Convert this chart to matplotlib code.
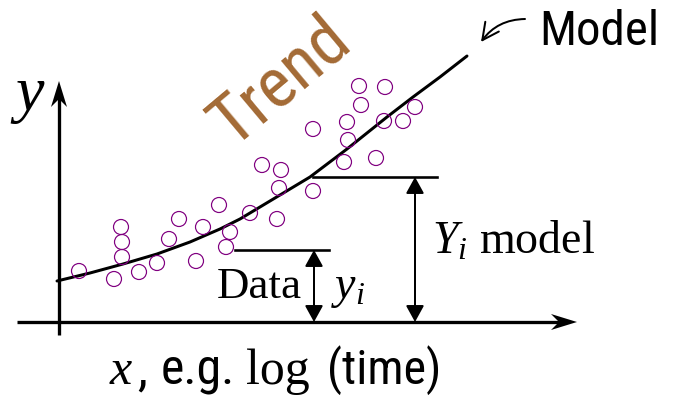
import matplotlib
matplotlib.use("Agg")
import matplotlib.pyplot as plt
from matplotlib.patches import Polygon, FancyArrowPatch
from matplotlib import font_manager

# ---- data (pixel-space coordinates) ----
data_x = [79, 114, 121, 122, 122, 139, 157, 169, 179, 196, 203, 219, 226, 230,
          250, 277, 262, 281, 279, 313, 313, 347, 348, 344, 376, 359, 361, 385,
          384, 403, 415]
data_y = [272, 280, 228, 243, 258, 273, 264, 240, 220, 262, 228, 206, 248, 233,
          214, 220, 166, 171, 189, 192, 130, 123, 141, 163, 159, 87, 106, 88,
          122, 122, 108]

model_x = [57, 90, 123, 157, 190, 220, 240, 275, 310, 347, 387, 413, 440, 467]
model_y = [282, 274, 265, 255, 243, 230, 220, 199, 178, 150, 118, 98, 78, 57]

data_i = (235, 251)
model_i = (313, 178)
baseline_y = 323

plt.rcParams['mathtext.fontset'] = 'custom'
plt.rcParams['mathtext.rm'] = 'Liberation Serif'
plt.rcParams['mathtext.it'] = 'Liberation Serif:italic'

names = {f.name for f in font_manager.fontManager.ttflist}
narrow_candidates = ['Liberation Sans Narrow', 'Arial Narrow', 'Roboto Condensed',
                     'DejaVu Sans Condensed', 'Open Sans Condensed', 'Noto Sans Condensed']
narrow_found = [n for n in narrow_candidates if n in names]
narrow = [narrow_found[0]] if narrow_found else ['Roboto']

W, H = 673, 402
fig = plt.figure(figsize=(W / 100, H / 100), dpi=100)
ax = fig.add_axes([0, 0, 1, 1])
ax.set_xlim(0, W)
ax.set_ylim(H, 0)
ax.axis('off')

PX = 0.72
serif = ['Liberation Serif']

ax.plot([17, 560], [baseline_y, baseline_y], color='black', lw=3.3 * PX, solid_capstyle='butt')
ax.plot([59, 59], [336, 98], color='black', lw=3.3 * PX, solid_capstyle='butt')
ax.add_patch(Polygon([[577, 323], [551, 315], [559, 323], [551, 331]], closed=True,
                     fc='black', ec='none'))
ax.add_patch(Polygon([[59, 82], [51, 108], [59, 100], [67, 108]], closed=True,
                     fc='black', ec='none'))

ax.plot(model_x, model_y, color='black', lw=3.0 * PX, solid_capstyle='round',
        solid_joinstyle='round')

ax.scatter(data_x, data_y, s=(15 * PX) ** 2, facecolors='none', edgecolors='#800080',
           linewidths=1.2 * PX, zorder=3)

ax.plot([model_i[0], 437], [model_i[1], model_i[1]], color='black', lw=2.6 * PX)
ax.plot([data_i[0], 329], [data_i[1], data_i[1]], color='black', lw=2.6 * PX)

def darrow(x, y0, y1):
    a = FancyArrowPatch((x, y0), (x, y1), arrowstyle='<|-|>,head_length=1.0,head_width=0.55',
                        mutation_scale=10, color='black', lw=2.0 * PX, shrinkA=0, shrinkB=0)
    ax.add_patch(a)

darrow(415, model_i[1], baseline_y)
darrow(314, data_i[1], baseline_y)

ax.text(539, 45, 'Model', fontsize=49 * PX, family=narrow, ha='left', va='baseline')
ax.add_patch(FancyArrowPatch((525, 20), (481, 43), arrowstyle='->,head_length=1.2,head_width=0.6',
                             connectionstyle='arc3,rad=0.25', mutation_scale=10,
                             color='black', lw=2.0 * PX, shrinkA=0, shrinkB=0))

ax.text(233, 148, 'Trend', fontsize=70 * PX, family=narrow, color='#A36A35',
        rotation=40, rotation_mode='anchor', ha='left', va='baseline')

ax.text(15, 110, 'y', fontsize=64 * PX, family=serif, style='italic', ha='left', va='baseline')

ax.text(217, 298, 'Data', fontsize=45 * PX, family=serif, ha='left', va='baseline')
ax.text(331, 298, '$y_i$', fontsize=46 * PX, ha='left', va='baseline')
ax.text(432, 254, '$Y_i$ model', fontsize=46 * PX, family=serif, ha='left', va='baseline')

ax.text(110, 384, 'x', fontsize=50 * PX, family=serif, style='italic', ha='left', va='baseline')
ax.text(137, 384, ',', fontsize=50 * PX, family=narrow, ha='left', va='baseline')
ax.text(161, 384, 'e.g.', fontsize=50 * PX, family=narrow, ha='left', va='baseline')
ax.text(246, 384, 'log', fontsize=50 * PX, family=serif, ha='left', va='baseline')
ax.text(327, 384, '(time)', fontsize=48 * PX, family=narrow, ha='left', va='baseline')

fig.savefig('out.png', dpi=100)
